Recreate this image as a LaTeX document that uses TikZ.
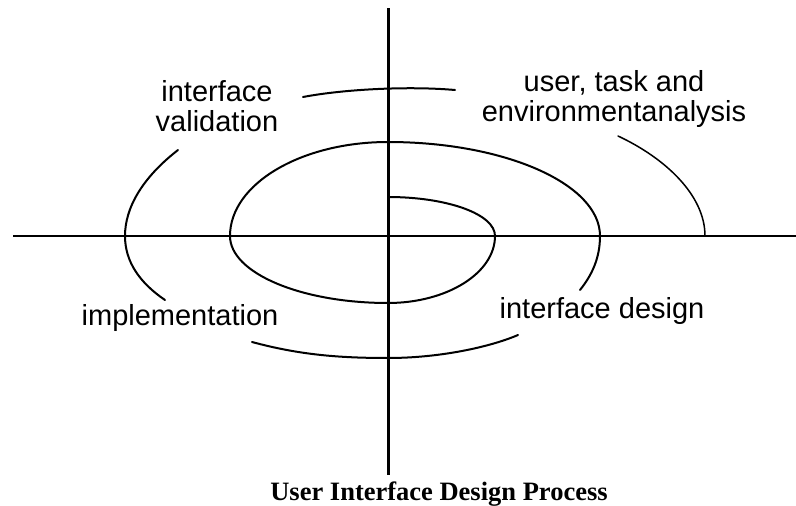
\documentclass[tikz,border=0pt]{standalone}
\usepackage{fontspec}
\setmainfont{Liberation Serif}
\newfontfamily\labelfont{Liberation Sans}
\usetikzlibrary{positioning}
\tikzset{
    % Axis lines (vertical one is heavier)
    vaxis/.style={draw=black, line width=3pt},
    haxis/.style={draw=black, line width=1.4pt},
    % Spiral and outer arcs
    spiralarc/.style={draw=black, line width=2pt, line cap=round},
    thinarc/.style={draw=black, line width=1.5pt, line cap=round},
    % Phase labels
    phaselabel/.style={font=\labelfont\fontsize{29}{30}\selectfont,
        align=center, inner sep=0pt},
    % Caption under the diagram
    captionlabel/.style={font=\bfseries\fontsize{26.5}{28}\selectfont,
        inner sep=0pt, anchor=base},
}
\begin{document}
\begin{tikzpicture}[x=1pt,y=-1pt]
  \useasboundingbox (0,0) rectangle (796,506);
  % axes
  \coordinate (top) at (388,8);
  \coordinate (bottom) at (388,475);
  \coordinate (left) at (13,236);
  \coordinate (right) at (796,236);
  \draw[vaxis] (top) -- (bottom);
  \draw[haxis] (left) -- (right);
  % spiral
  \draw[spiralarc] (388,197) .. controls (447,197) and (495,214) .. (495,236)
    .. controls (495,273) and (447,303) .. (388,303)
    .. controls (301,303) and (230,273) .. (230,236)
    .. controls (230,184) and (301,142) .. (388,142)
    .. controls (505,142) and (600,184) .. (600,236)
    .. controls (600,258) and (592,275) .. (580,290);
  % outer arcs
  \draw[spiralarc] (303,97) .. controls (345,89) and (410,86) .. (455,90);
  \draw[spiralarc] (178,150) .. controls (142,178) and (125,208) .. (125,236)
    .. controls (125,262) and (140,283) .. (165,300);
  \draw[thinarc] (618,136) .. controls (665,158) and (705,195) .. (705,236);
  \draw[spiralarc] (252,342) .. controls (300,355) and (340,358) .. (388,358)
    .. controls (440,358) and (490,347) .. (518,335);
  % labels
  \node[phaselabel] (valid) at (217,106) {interface\\validation};
  \node[phaselabel] (analysis) at (614,99) {user, task and\\environmentanalysis};
  \node[phaselabel] (implem) at (180,318) {implementation};
  \node[phaselabel] (design) at (602,311) {interface design};
  \node[captionlabel] (caption) at (439,500) {User Interface Design Process};
\end{tikzpicture}
\end{document}
